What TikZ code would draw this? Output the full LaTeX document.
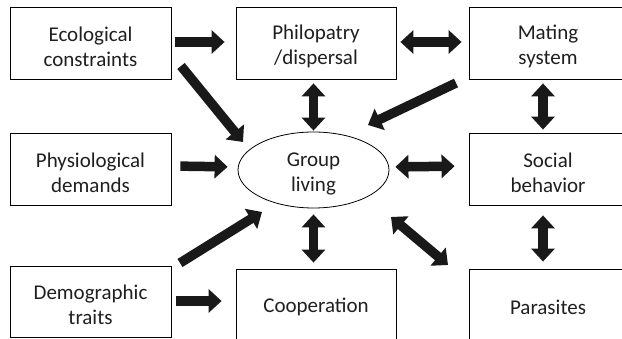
\documentclass[tikz,border=0pt]{standalone}
\usepackage{fontspec}
\setmainfont{Carlito}
\usetikzlibrary{arrows.meta,shapes.geometric}
\newcommand\lift{\rule{0pt}{22pt}}
\tikzset{
  box/.style={draw, line width=0.8pt, align=center, inner sep=0pt,
    font=\fontsize{21}{25}\selectfont, text=black!88},
  big/.style={line width=9.5pt, black!90,
    -{Triangle[length=13pt,width=23pt]}},
  bigboth/.style={line width=9.5pt, black!90,
    {Triangle[length=13pt,width=23pt]}-{Triangle[length=13pt,width=23pt]}},
}
\begin{document}
\begin{tikzpicture}[x=1pt,y=-1pt]
\useasboundingbox (0,0) rectangle (622,339);
\clip (0,0) rectangle (622,339);
\node[box, minimum width=161pt, minimum height=72pt] (eco) at (90.5,43) {\lift Ecological\\constraints};
\node[box, minimum width=160pt, minimum height=72pt] (philo) at (316,43) {\lift Philopatry\\/dispersal};
\node[box, minimum width=158pt, minimum height=72pt] (mating) at (548,43) {\lift Mating\\system};
\node[box, minimum width=161pt, minimum height=72pt] (physio) at (90.5,169) {\lift Physiological\\demands};
\node[box, ellipse, minimum width=151pt, minimum height=76pt] (group) at (313.5,170) {\lift Group\\living};
\node[box, minimum width=158pt, minimum height=72pt] (social) at (548,169) {\lift Social\\behavior};
\node[box, minimum width=161pt, minimum height=71pt] (demo) at (90.5,301.5) {\lift Demographic\\traits};
\node[box, minimum width=160pt, minimum height=76pt] (coop) at (316,307) {Cooperation};
\node[box, minimum width=158pt, minimum height=76pt] (para) at (548,307) {Parasites};

\coordinate (e1) at (181,66);  \coordinate (e2) at (243,142);
\coordinate (m1) at (456,83);  \coordinate (m2) at (368,125);
\coordinate (d1) at (180,263); \coordinate (d2) at (262,212);
\coordinate (p1) at (391,217); \coordinate (p2) at (448,265);

\draw[big, shorten <=4pt, shorten >=11pt] ([yshift=1pt]eco.east) -- ([yshift=1pt]philo.west);
\draw[bigboth, shorten <=4pt, shorten >=7pt] ([yshift=1pt]philo.east) -- ([yshift=1pt]mating.west);
\draw[bigboth, shorten <=4pt, shorten >=1pt] (group.north |- philo.south) -- (group.north);
\draw[bigboth, shorten <=4pt, shorten >=3pt] ([xshift=-5pt]mating.south) -- ([xshift=-5pt]social.north);
\draw[big, shorten <=9pt, shorten >=10pt] ([yshift=3pt]physio.east) -- ([yshift=3pt]group.west);
\draw[bigboth, shorten <=6pt, shorten >=14pt] ([yshift=3pt]group.east) -- ([yshift=3pt]social.west);
\draw[bigboth, shorten <=6pt, shorten >=6pt] (group.south) -- (group.south |- coop.north);
\draw[bigboth, shorten <=10pt, shorten >=7pt] ([xshift=-5pt]social.south) -- ([xshift=-5pt]para.north);
\draw[big, shorten <=5pt, shorten >=14pt] ([yshift=0.5pt]demo.east) -- ([yshift=0.5pt]demo.east -| coop.west);
\draw[big] (e1) -- (e2);
\draw[big] (m1) -- (m2);
\draw[big] (d1) -- (d2);
\draw[bigboth] (p1) -- (p2);
\end{tikzpicture}
\end{document}
